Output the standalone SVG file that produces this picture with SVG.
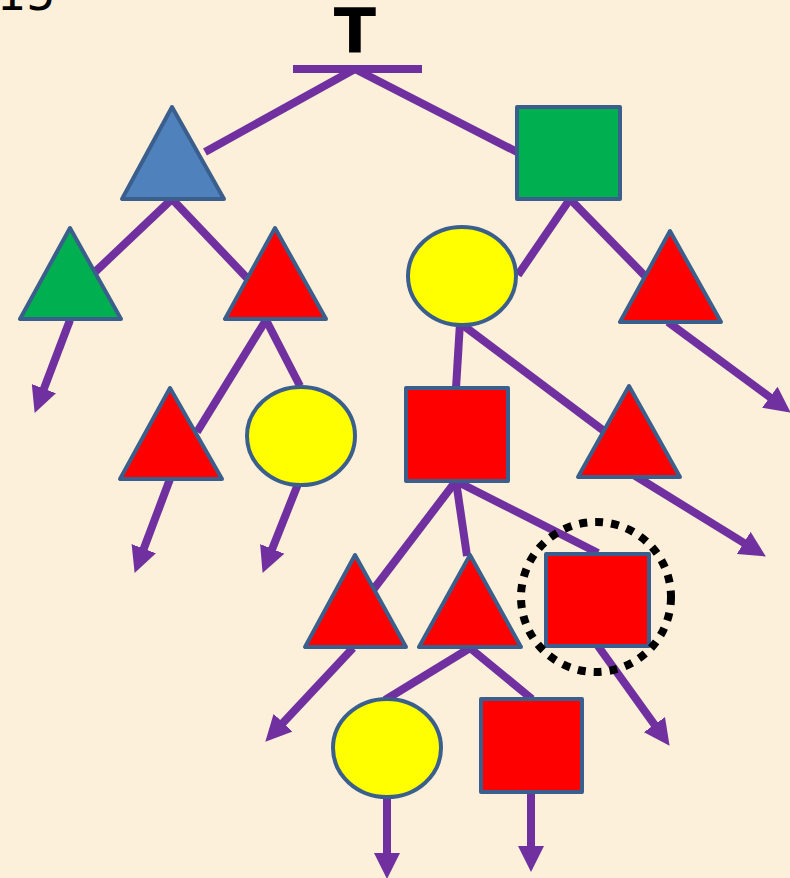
<svg xmlns="http://www.w3.org/2000/svg" width="790" height="878" viewBox="0 0 790 878">
<defs>
<marker id="ah" markerUnits="userSpaceOnUse" markerWidth="26" markerHeight="26" viewBox="0 0 24 24" refX="12" refY="12" orient="auto">
<path d="M0,0 L24,12 L0,24 z" fill="#7030A0"/>
</marker>
<style>
.e{stroke:#7030A0;stroke-width:8;fill:none;stroke-linecap:butt}
.a{stroke:#7030A0;stroke-width:8;fill:none;marker-end:url(#ah)}
.n{stroke:#3B5F8C;stroke-width:4;stroke-linejoin:round}
.red{fill:#FF0000}.yel{fill:#FFFF00}.grn{fill:#00B050}.blu{fill:#4F81BD}
</style>
</defs>
<rect width="790" height="878" fill="#FCF0DA"/>
<text x="-3" y="10" font-family="DejaVu Sans, sans-serif" font-size="46">15</text>
<text x="355" y="53" text-anchor="middle" font-family="DejaVu Sans, sans-serif" font-weight="bold" font-size="62">T</text>
<g id="connectors">
<line class="e" x1="293" y1="69" x2="422" y2="69"/>
<line class="e" x1="355" y1="69" x2="205" y2="152"/>
<line class="e" x1="355" y1="69" x2="519" y2="153"/>
<line class="e" x1="172" y1="199" x2="95" y2="272"/>
<line class="e" x1="172" y1="199" x2="247" y2="278"/>
<line class="e" x1="570" y1="199" x2="518" y2="275"/>
<line class="e" x1="570" y1="199" x2="645" y2="276"/>
<line class="e" x1="266" y1="320" x2="197" y2="432"/>
<line class="e" x1="266" y1="320" x2="300" y2="386"/>
<line class="e" x1="460" y1="323" x2="456" y2="388"/>
<line class="e" x1="460" y1="323" x2="604" y2="431"/>
<line class="e" x1="456" y1="481" x2="373" y2="590"/>
<line class="e" x1="456" y1="481" x2="467" y2="556"/>
<line class="e" x1="456" y1="481" x2="598" y2="553"/>
<line class="e" x1="470" y1="648" x2="385" y2="700"/>
<line class="e" x1="470" y1="648" x2="532" y2="699"/>
<line class="a" x1="70" y1="320" x2="39.3" y2="400.8"/>
<line class="a" x1="668" y1="322" x2="780.3" y2="404.9"/>
<line class="a" x1="170" y1="479" x2="139.2" y2="560.8"/>
<line class="a" x1="298" y1="484" x2="267.4" y2="560.9"/>
<line class="a" x1="629" y1="472" x2="754.8" y2="549.7"/>
<line class="a" x1="353" y1="648" x2="274.2" y2="732.2"/>
<line class="a" x1="598" y1="646" x2="662" y2="735.2"/>
<line class="a" x1="387" y1="797" x2="387" y2="866"/>
<line class="a" x1="531" y1="792" x2="531" y2="859"/>
</g>
<g id="n1"><polygon class="n blu" points="172,107 122,199 224,199"/></g>
<g id="n2"><rect class="n grn" x="517" y="107" width="103" height="92"/></g>
<g id="n3"><polygon class="n grn" points="70,228 20,319 121,319"/></g>
<g id="n4"><polygon class="n red" points="275,228 225,319 326,319"/></g>
<g id="n5"><ellipse class="n yel" cx="462" cy="276" rx="54" ry="49"/></g>
<g id="n6"><polygon class="n red" points="670,231 620,322 721,322"/></g>
<g id="n7"><polygon class="n red" points="170,388 120,479 222,479"/></g>
<g id="n8"><ellipse class="n yel" cx="301" cy="436" rx="54" ry="49"/></g>
<g id="n9"><rect class="n red" x="406" y="388" width="102" height="93"/></g>
<g id="n10"><polygon class="n red" points="629,386 578,477 680,477"/></g>
<g id="n11"><polygon class="n red" points="355,555 305,647 406,647"/></g>
<g id="n12"><polygon class="n red" points="470,555 419,647 521,647"/></g>
<g id="n13"><rect class="n red" x="546" y="554" width="103" height="92"/><circle cx="596" cy="597" r="75" fill="none" stroke="#000" stroke-width="8" stroke-dasharray="8 8"/></g>
<g id="n14"><ellipse class="n yel" cx="387" cy="748" rx="54" ry="49"/></g>
<g id="n15"><rect class="n red" x="481" y="699" width="101" height="93"/></g>
</svg>
